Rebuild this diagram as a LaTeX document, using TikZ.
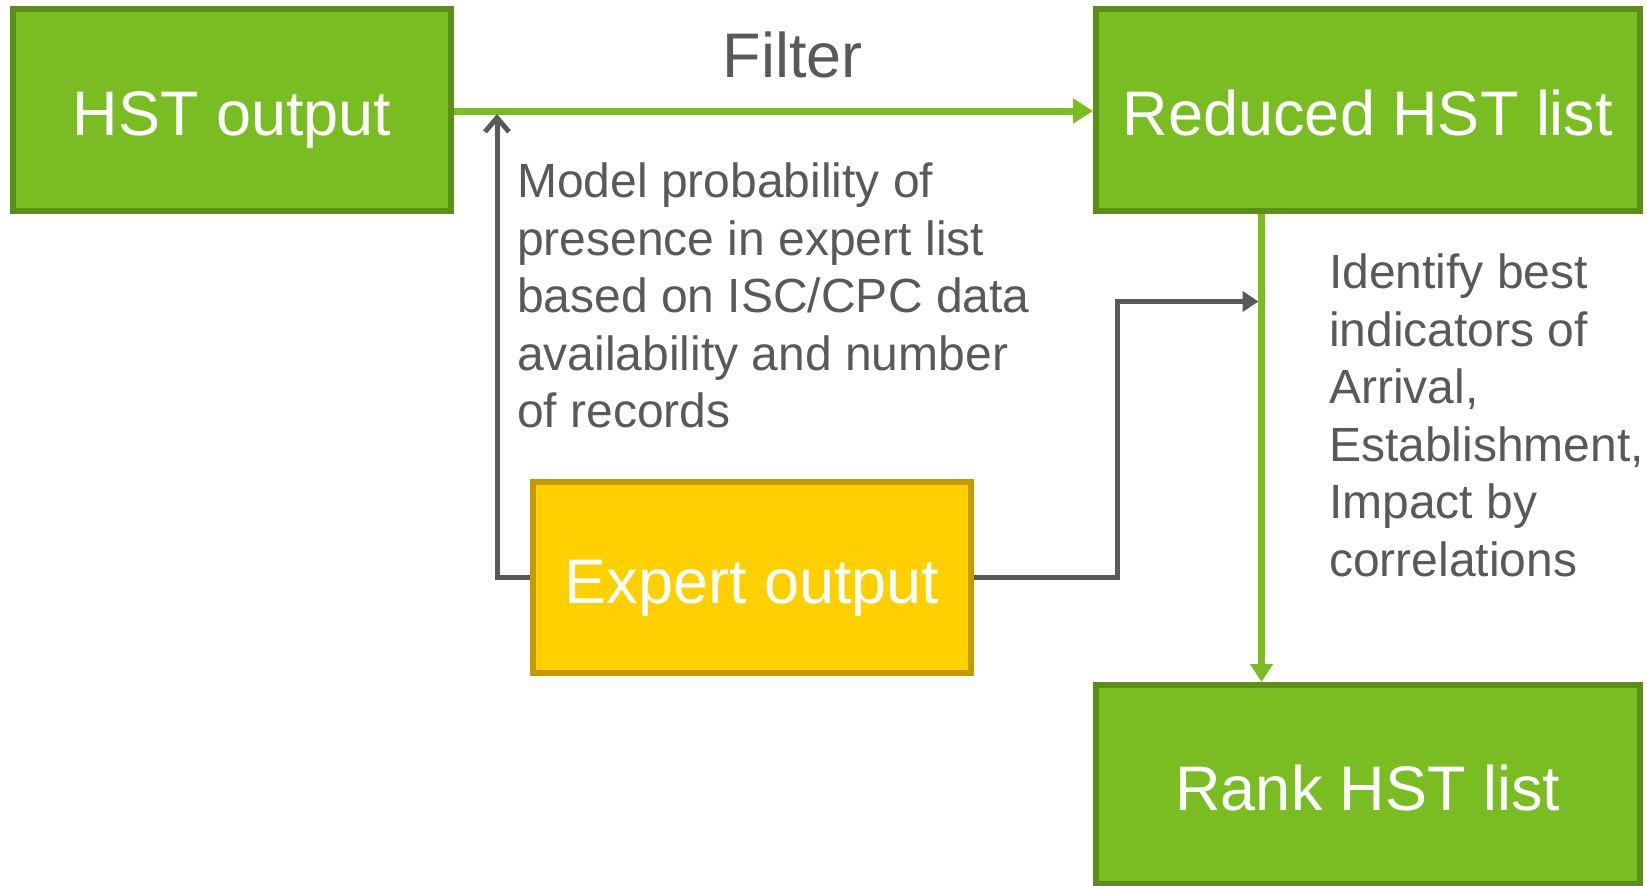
\documentclass[tikz,border=0pt]{standalone}
\usepackage{fontspec}
\setmainfont{Liberation Sans}
\usetikzlibrary{arrows.meta,positioning}
\definecolor{hstgreen}{HTML}{7ABD22}
\definecolor{hstgreendark}{HTML}{5B8F18}
\definecolor{expyellow}{HTML}{FFD000}
\definecolor{expyellowdark}{HTML}{C49B00}
\definecolor{txtgray}{HTML}{595959}
\begin{document}
\begin{tikzpicture}[x=1pt,y=-1pt,
    greenbox/.style={draw=hstgreendark,fill=hstgreen,line width=6pt,text=white,
        text height=51pt,text depth=0pt,font=\fontsize{63}{70}\selectfont},
    yellowbox/.style={draw=expyellowdark,fill=expyellow,line width=6pt,text=white,
        text height=51pt,text depth=0pt,font=\fontsize{63}{70}\selectfont},
    greenline/.style={draw=hstgreen,line width=7pt},
    grayline/.style={draw=txtgray,line width=5pt},
    note/.style={text=txtgray,align=left,inner sep=0pt,
        font=\fontsize{48}{57.5}\selectfont}]
    \useasboundingbox (0,0) rectangle (1647,886);
        \path
        % boxes
        (232,110)    node[greenbox,minimum width=438pt,minimum height=202pt]  (hst) {HST output}
        (1368,110)   node[greenbox,minimum width=544pt,minimum height=202pt]  (reduced) {Reduced HST list}
        (1368,784.5) node[greenbox,minimum width=544pt,minimum height=199pt]  (rank) {Rank HST list}
        (752,577.5)  node[yellowbox,minimum width=438pt,minimum height=191pt] (expert) {Expert output};
        \coordinate (vtop) at ([xshift=-106.5pt]reduced.south);
        % filter
        \draw[greenline,-{Triangle[length=20pt,width=24pt]}] ([yshift=-1pt]hst.east) -- ([yshift=-1pt]reduced.west)
            node[pos=0.53,above=26.5pt,text=txtgray,font=\fontsize{63}{70}\selectfont] (filter) {Filter};
        % rank
        \draw[greenline,-{Triangle[length=18pt,width=22pt]}] (vtop) -- (vtop |- rank.north);
        % expert to filter
        \draw[grayline,-{Straight Barb[length=14pt,width=24pt,line width=5pt]}]
            (expert.west) -| ([xshift=43pt,yshift=-4pt]hst.east);
        % expert to rank
        \draw[grayline,-{Triangle[length=16pt,width=20pt]},shorten >=3pt]
            (expert.east) -| (1117,301.5) -- (vtop |- 0,301.5);
        % notes
        \node[note,anchor=north west] (model) at (517,163)
            {Model probability of\\presence in expert list\\based on ISC/CPC data\\availability and number\\of records};
        \node[note,anchor=north west] (identify) at (1329,254)
            {Identify best\\indicators of\\Arrival,\\Establishment,\\Impact by\\correlations};
    \end{tikzpicture}
\end{document}
